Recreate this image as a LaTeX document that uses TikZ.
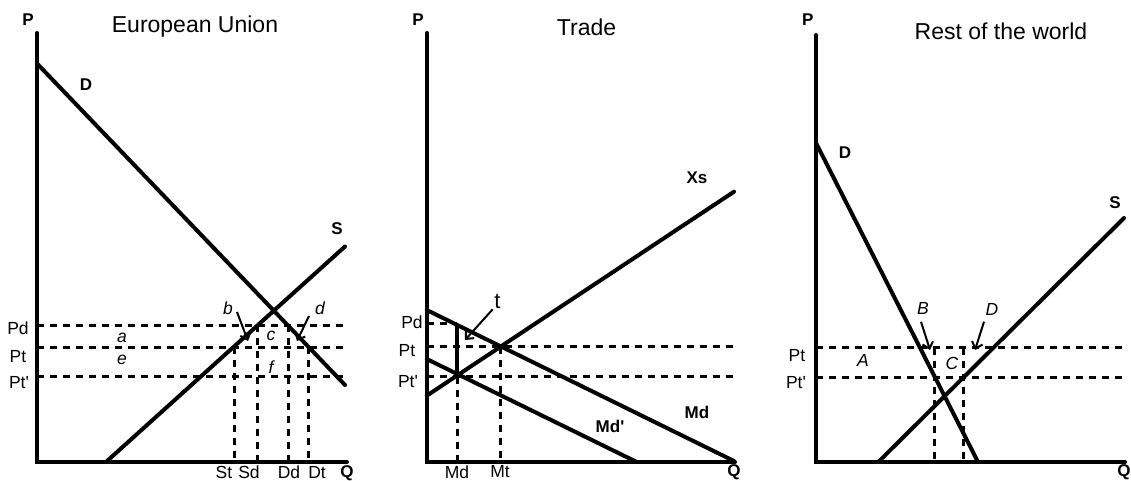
\documentclass[tikz,border=0pt]{standalone}
\usepackage{fontspec}
\setmainfont{Liberation Sans}
\usetikzlibrary{arrows.meta}
\newcommand{\pq}{\textquotesingle}
\begin{document}
\begin{tikzpicture}[x=1pt,y=-1pt,
  curve/.style={line width=4pt,line cap=round},
  guide/.style={line width=3pt,dash pattern=on 7pt off 6pt},
  ptr/.style={line width=2pt,-{Straight Barb[length=6pt,width=11pt,line width=2pt]}},
  ttl/.style={font=\fontsize{23}{23}\selectfont,inner sep=0pt},
  lab/.style={font=\fontsize{17.5}{17.5}\selectfont,inner sep=0pt},
  blab/.style={font=\fontsize{17}{17}\selectfont\bfseries,inner sep=0pt},
  ilab/.style={font=\fontsize{17.5}{17.5}\selectfont\itshape,inner sep=0pt}]
\useasboundingbox (0,0) rectangle (1131,481);

% ================= Panel 1: European Union =================
\coordinate (e-top) at (37,33);
\coordinate (e-o) at (37,462);
\coordinate (e-qx) at (347,462);
\coordinate (e-D1) at (37,63.5);
\coordinate (e-D2) at (345,385);
\coordinate (e-S1) at (106,462);
\coordinate (e-S2) at (345,246.5);
\coordinate (e-pd1) at (37,325);   \coordinate (e-pd2) at (345,325);
\coordinate (e-pt1) at (37,347);   \coordinate (e-pt2) at (345,347);
\coordinate (e-pp1) at (37,376);   \coordinate (e-pp2) at (345,376);
\coordinate (e-st1) at (234.3,347); \coordinate (e-st2) at (234.3,462);
\coordinate (e-sd1) at (257.5,325); \coordinate (e-sd2) at (257.5,462);
\coordinate (e-dd1) at (288,325);   \coordinate (e-dd2) at (288,462);
\coordinate (e-dt1) at (308.3,347); \coordinate (e-dt2) at (308.3,462);
\coordinate (e-b1) at (237,312); \coordinate (e-b2) at (248,341);
\coordinate (e-d1) at (309,316); \coordinate (e-d2) at (297,341);

\draw[guide] (e-pd1) -- (e-pd2);
\draw[guide] (e-pt1) -- (e-pt2);
\draw[guide] (e-pp1) -- (e-pp2);
\draw[guide] (e-st1) -- (e-st2);
\draw[guide] (e-sd1) -- (e-sd2);
\draw[guide] (e-dd1) -- (e-dd2);
\draw[guide] (e-dt1) -- (e-dt2);
\draw[curve] (e-top) -- (e-o) -- (e-qx);
\draw[curve] (e-D1) -- (e-D2);
\draw[curve] (e-S1) -- (e-S2);
\draw[ptr] (e-b1) -- (e-b2);
\draw[ptr] (e-d1) -- (e-d2);

\node[blab] (e-P) at (28,20) {P};
\node[ttl] (e-title) at (195,27) {European Union};
\node[blab] (e-Dl) at (86,85) {D};
\node[blab] (e-Sl) at (337,229) {S};
\node[blab] (e-Q) at (347,473) {Q};
\node[lab] (e-Pd) at (18,328) {Pd};
\node[lab] (e-Pt) at (18,357) {Pt};
\node[lab] (e-Ptp) at (19,383) {Pt\pq};
\node[ilab] (e-a) at (122,338) {a};
\node[ilab] (e-e) at (122,360) {e};
\node[ilab] (e-b) at (228,308) {b};
\node[ilab] (e-d) at (320,308) {d};
\node[ilab] (e-c) at (271,336) {c};
\node[ilab] (e-f) at (271,367) {f};
\node[lab] (e-St) at (224,472.5) {St};
\node[lab] (e-Sd) at (249,472.5) {Sd};
\node[lab] (e-Dd) at (289,472.5) {Dd};
\node[lab] (e-Dt) at (317,472.5) {Dt};

% ================= Panel 2: Trade =================
\coordinate (t-top) at (426.7,33);
\coordinate (t-o) at (426.7,462);
\coordinate (t-qx) at (735,462);
\coordinate (t-X1) at (426.7,395.7); \coordinate (t-X2) at (734,191.7);
\coordinate (t-M1) at (426.7,310);   \coordinate (t-M2) at (734,461);
\coordinate (t-N1) at (426.7,359);   \coordinate (t-N2) at (636.7,462);
\coordinate (t-bar1) at (457.3,325.5); \coordinate (t-bar2) at (457.3,376.5);
\coordinate (t-pd1) at (426.7,323.5); \coordinate (t-pd2) at (457.3,323.5);
\coordinate (t-pt1) at (426.7,346.7); \coordinate (t-pt2) at (734,346.7);
\coordinate (t-pp1) at (426.7,376.5); \coordinate (t-pp2) at (734,376.5);
\coordinate (t-md1) at (457.3,376.5); \coordinate (t-md2) at (457.3,462);
\coordinate (t-mt1) at (500,346.7);   \coordinate (t-mt2) at (500,462);
\coordinate (t-a1) at (492.7,309.3);  \coordinate (t-a2) at (465,340);

\draw[guide] (t-pd1) -- (t-pd2);
\draw[guide] (t-pt1) -- (t-pt2);
\draw[guide] (t-pp1) -- (t-pp2);
\draw[guide] (t-md1) -- (t-md2);
\draw[guide] (t-mt1) -- (t-mt2);
\draw[curve] (t-top) -- (t-o) -- (t-qx);
\draw[curve] (t-X1) -- (t-X2);
\draw[curve] (t-M1) -- (t-M2);
\draw[curve] (t-N1) -- (t-N2);
\draw[curve,line cap=butt] (t-bar1) -- (t-bar2);
\draw[ptr] (t-a1) -- (t-a2);

\node[blab] (t-P) at (418,20) {P};
\node[ttl] (t-title) at (586.5,27) {Trade};
\node[blab] (t-Xs) at (697,178) {Xs};
\node[blab] (t-Mdl) at (697,412) {Md};
\node[blab] (t-Mdp) at (610,426) {Md\pq};
\node[blab] (t-Q) at (734,472) {Q};
\node[lab] (t-Pd) at (412,322) {Pd};
\node[lab] (t-Pt) at (407,351) {Pt};
\node[lab] (t-Ptp) at (408,382) {Pt\pq};
\node[font=\fontsize{22}{22}\selectfont,inner sep=0pt] (t-t) at (497.5,301) {t};
\node[lab] (t-Md) at (457,472) {Md};
\node[lab] (t-Mt) at (500,472) {Mt};

% ================= Panel 3: Rest of the world =================
\coordinate (r-top) at (816,35);
\coordinate (r-o) at (816,462);
\coordinate (r-qx) at (1125,462);
\coordinate (r-D1) at (816,143);   \coordinate (r-D2) at (978,462);
\coordinate (r-S1) at (878.3,462); \coordinate (r-S2) at (1124,218);
\coordinate (r-pt1) at (816,347.5); \coordinate (r-pt2) at (1123,347.5);
\coordinate (r-pp1) at (816,377.3); \coordinate (r-pp2) at (1123,377.3);
\coordinate (r-v1a) at (934.5,347.5); \coordinate (r-v1b) at (934.5,462);
\coordinate (r-v2a) at (963.3,347.5); \coordinate (r-v2b) at (963.3,462);
\coordinate (r-B1) at (921,321.7); \coordinate (r-B2) at (930,350);
\coordinate (r-E1) at (984,321.7); \coordinate (r-E2) at (975,350);

\draw[guide] (r-pt1) -- (r-pt2);
\draw[guide] (r-pp1) -- (r-pp2);
\draw[guide] (r-v1a) -- (r-v1b);
\draw[guide] (r-v2a) -- (r-v2b);
\draw[curve] (r-top) -- (r-o) -- (r-qx);
\draw[curve] (r-D1) -- (r-D2);
\draw[curve] (r-S1) -- (r-S2);
\draw[ptr] (r-B1) -- (r-B2);
\draw[ptr] (r-E1) -- (r-E2);

\node[blab] (r-P) at (807.7,20) {P};
\node[ttl] (r-title) at (1001,31) {Rest of the world};
\node[blab] (r-Dl) at (845,153) {D};
\node[blab] (r-Sl) at (1115,203) {S};
\node[blab] (r-Q) at (1124,472) {Q};
\node[lab] (r-Pt) at (797,356) {Pt};
\node[lab] (r-Ptp) at (796,383) {Pt\pq};
\node[ilab] (r-A) at (863,360) {A};
\node[ilab] (r-C) at (952,363) {C};
\node[ilab] (r-B) at (923,308) {B};
\node[ilab] (r-Dd) at (992,309) {D};
\end{tikzpicture}
\end{document}
